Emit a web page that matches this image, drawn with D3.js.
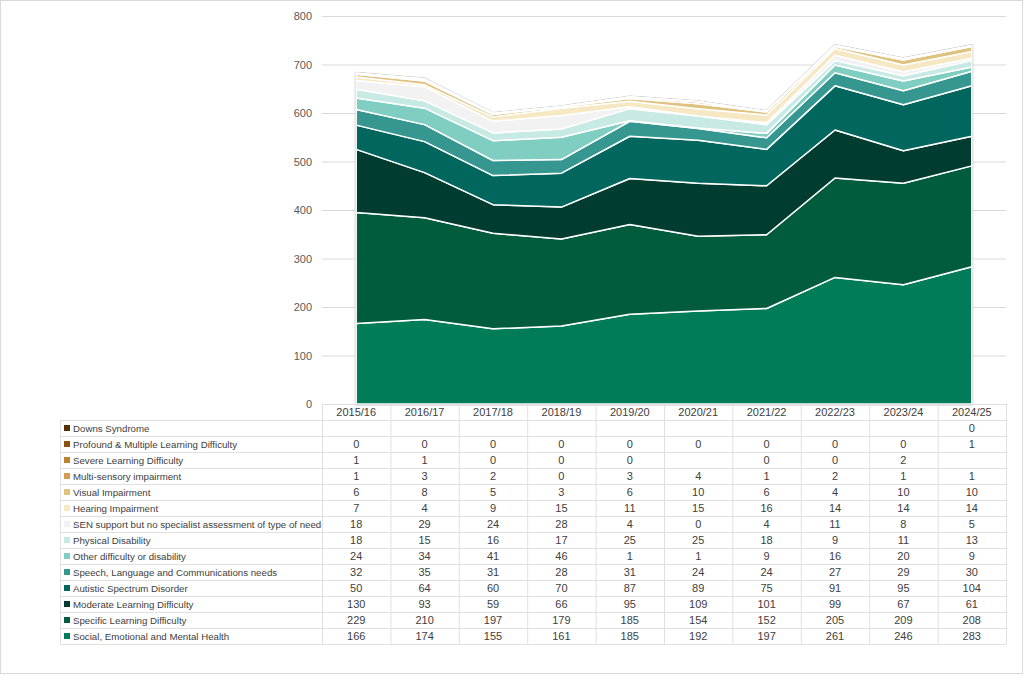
<!DOCTYPE html>
<html>
<head>
<meta charset="utf-8">
<script src="https://cdn.jsdelivr.net/npm/d3@7"></script>
<style>
  body { margin: 0; background: #fff; }
  svg text { font-family: "Liberation Sans", Arial, sans-serif; }
</style>
</head>
<body>
<div id="chart"></div>
<script>
// years along the x axis
const years = ["2015/16", "2016/17", "2017/18", "2018/19", "2019/20", "2020/21", "2021/22", "2022/23", "2023/24", "2024/25"];

// series, top row of the table first (null = blank cell)
const seriesNames = [
    "Downs Syndrome",
    "Profound & Multiple Learning Difficulty",
    "Severe Learning Difficulty",
    "Multi-sensory impairment",
    "Visual Impairment",
    "Hearing Impairment",
    "SEN support but no specialist assessment of type of need",
    "Physical Disability",
    "Other difficulty or disability",
    "Speech, Language and Communications needs",
    "Autistic Spectrum Disorder",
    "Moderate Learning Difficulty",
    "Specific Learning Difficulty",
    "Social, Emotional and Mental Health"
];
const downs     = [null, null, null, null, null, null, null, null, null, 0];
const profound  = [0, 0, 0, 0, 0, 0, 0, 0, 0, 1];
const severe    = [1, 1, 0, 0, 0, null, 0, 0, 2, null];
const multi     = [1, 3, 2, 0, 3, 4, 1, 2, 1, 1];
const visual    = [6, 8, 5, 3, 6, 10, 6, 4, 10, 10];
const hearing   = [7, 4, 9, 15, 11, 15, 16, 14, 14, 14];
const senNoType = [18, 29, 24, 28, 4, 0, 4, 11, 8, 5];
const physical  = [18, 15, 16, 17, 25, 25, 18, 9, 11, 13];
const other     = [24, 34, 41, 46, 1, 1, 9, 16, 20, 9];
const speech    = [32, 35, 31, 28, 31, 24, 24, 27, 29, 30];
const autistic  = [50, 64, 60, 70, 87, 89, 75, 91, 95, 104];
const moderate  = [130, 93, 59, 66, 95, 109, 101, 99, 67, 61];
const specific  = [229, 210, 197, 179, 185, 154, 152, 205, 209, 208];
const social    = [166, 174, 155, 161, 185, 192, 197, 261, 246, 283];

const seriesValues = [downs, profound, severe, multi, visual, hearing, senNoType,
    physical, other, speech, autistic, moderate, specific, social];

const seriesColors = ["#543005", "#8c510a", "#bf812d", "#d39e4f", "#dfc27d", "#f6e8c3", "#f2f2f2",
    "#c7eae5", "#80cdc1", "#35978f", "#01665e", "#003c30", "#005c3d", "#007d58"];

const yTicks = [0, 100, 200, 300, 400, 500, 600, 700, 800];

// layout
const W = 1024, H = 676;
const plot = {left: 322, right: 1006, top: 16, bottom: 404};
const table = {left: 60, rowH: 16};

const svg = d3.select("#chart").append("svg")
    .attr("width", W)
    .attr("height", H);

// outer chart border
svg.append("rect")
    .attr("x", 0.5).attr("y", 0.5)
    .attr("width", W - 2).attr("height", H - 3)
    .attr("fill", "#fff")
    .attr("stroke", "#d9d9d9");

const x = d3.scaleBand().domain(years).range([plot.left, plot.right]);
const xc = d => x(d) + x.bandwidth() / 2;
const y = d3.scaleLinear().domain([0, 800]).range([plot.bottom, plot.top]);

// gridlines + y labels
svg.append("g").selectAll("line")
    .data(yTicks.filter(t => t > 0))
    .join("line")
    .attr("x1", plot.left).attr("x2", plot.right)
    .attr("y1", d => y(d) + 0.5).attr("y2", d => y(d) + 0.5)
    .attr("stroke", "#d9d9d9");

svg.append("g").selectAll("text")
    .data(yTicks)
    .join("text")
    .attr("x", 312)
    .attr("y", d => y(d) + 4)
    .attr("text-anchor", "end")
    .attr("font-size", 11)
    .attr("fill", "#595959")
    .text(d => d);

// stacked data, bottom series first
const rows = years.map((yr, i) => {
    const r = {year: yr};
    seriesNames.forEach((n, k) => r[n] = seriesValues[k][i] ?? 0);
    return r;
});
const stackKeys = seriesNames.slice().reverse();
const stacked = d3.stack().keys(stackKeys)(rows);
const colorOf = d3.scaleOrdinal().domain(seriesNames).range(seriesColors);

const area = d3.area()
    .x(d => xc(d.data.year))
    .y0(d => y(d[0]))
    .y1(d => y(d[1]));

// soft grey outline around the whole stack
const topLayer = stacked[stacked.length - 1];
svg.append("path")
    .datum(topLayer)
    .attr("d", d3.area().x(d => xc(d.data.year)).y0(y(0)).y1(d => y(d[1])))
    .attr("fill", "none")
    .attr("stroke", "#c8c8c8")
    .attr("stroke-width", 3)
    .attr("stroke-linejoin", "round");

svg.append("g").selectAll("path")
    .data(stacked)
    .join("path")
    .attr("d", area)
    .attr("fill", d => colorOf(d.key))
    .attr("stroke", "#fff")
    .attr("stroke-width", 1.5)
    .attr("stroke-linejoin", "round");

// data table
const tbl = svg.append("g");
const nRows = seriesNames.length;
const tBottom = plot.bottom + table.rowH * (nRows + 1);
const gridColor = "#e0e0e0";

// horizontal lines
for (let r = 0; r <= nRows; r++) {
    const yy = plot.bottom + table.rowH * (r + 1) + 0.5;
    tbl.append("line")
        .attr("x1", table.left).attr("x2", plot.right)
        .attr("y1", yy).attr("y2", yy)
        .attr("stroke", gridColor);
}
// vertical lines
tbl.append("line")
    .attr("x1", table.left + 0.5).attr("x2", table.left + 0.5)
    .attr("y1", plot.bottom + table.rowH).attr("y2", tBottom)
    .attr("stroke", gridColor);
[...years.map(d => x(d)), plot.right].forEach(xx => {
    tbl.append("line")
        .attr("x1", xx + 0.5).attr("x2", xx + 0.5)
        .attr("y1", plot.bottom).attr("y2", tBottom)
        .attr("stroke", gridColor);
});
// axis line
tbl.append("line")
    .attr("x1", plot.left).attr("x2", plot.right)
    .attr("y1", plot.bottom + 0.5).attr("y2", plot.bottom + 0.5)
    .attr("stroke", gridColor);

// header
tbl.selectAll(".hdr")
    .data(years)
    .join("text")
    .attr("class", "hdr")
    .attr("x", xc)
    .attr("y", plot.bottom + 12)
    .attr("text-anchor", "middle")
    .attr("font-size", 11)
    .attr("fill", "#404040")
    .text(d => d);

// legend keys + values
seriesNames.forEach((name, r) => {
    const cy = plot.bottom + table.rowH * (r + 1) + table.rowH / 2;
    tbl.append("rect")
        .attr("x", 64).attr("y", cy - 3)
        .attr("width", 6).attr("height", 6)
        .attr("fill", seriesColors[r]);
    tbl.append("text")
        .attr("x", 73).attr("y", cy + 3.5)
        .attr("font-size", 9.7)
        .attr("fill", "#404040")
        .text(name);
    seriesValues[r].forEach((v, i) => {
        if (v == null) return;
        tbl.append("text")
            .attr("x", xc(years[i]))
            .attr("y", cy + 4)
            .attr("text-anchor", "middle")
            .attr("font-size", 11)
            .attr("fill", "#404040")
            .text(v);
    });
});
</script>
</body>
</html>
